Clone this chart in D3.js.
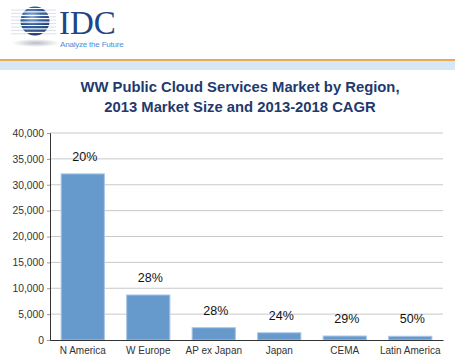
<!DOCTYPE html>
<html>
<head>
<meta charset="utf-8">
<script src="https://cdn.jsdelivr.net/npm/d3@7"></script>
<style>
  body { margin: 0; background: #fff; }
  text { font-family: "Liberation Sans", Arial, sans-serif; }
</style>
</head>
<body>
<div id="chart"></div>
<script>
// Market size 2013 (US$M) and CAGR 2013-2018 by region
const regions = ["N America", "W Europe", "AP ex Japan", "Japan", "CEMA", "Latin America"];
const marketSize = [32100, 8700, 2380, 1400, 770, 720];
const cagrLabels = ["20%", "28%", "28%", "24%", "29%", "50%"];
const yTicks = [0, 5000, 10000, 15000, 20000, 25000, 30000, 35000, 40000];

const width = 455, height = 363;
const margin = { top: 133, right: 12, bottom: 23, left: 50 };

const svg = d3.select("#chart")
    .append("svg")
    .attr("width", width)
    .attr("height", height);

// Header: IDC logo, orange rule and pale blue band
const defs = svg.append("defs");
const globeGrad = defs.append("radialGradient")
    .attr("id", "globe").attr("cx", "40%").attr("cy", "35%").attr("r", "70%");
globeGrad.append("stop").attr("offset", "0%").attr("stop-color", "#8fb3dc");
globeGrad.append("stop").attr("offset", "45%").attr("stop-color", "#2c5a9a");
globeGrad.append("stop").attr("offset", "100%").attr("stop-color", "#13306a");
const shadowGrad = defs.append("radialGradient").attr("id", "shadow");
shadowGrad.append("stop").attr("offset", "0%").attr("stop-color", "#b8bcc4");
shadowGrad.append("stop").attr("offset", "100%").attr("stop-color", "#ffffff");

const logo = svg.append("g");
logo.append("ellipse")
    .attr("cx", 36).attr("cy", 43).attr("rx", 24).attr("ry", 4)
    .attr("fill", "url(#shadow)");
logo.append("circle")
    .attr("cx", 35).attr("cy", 21).attr("r", 14.5)
    .attr("fill", "url(#globe)");
d3.range(8).forEach(i => {
    logo.append("line")
        .attr("x1", 11).attr("x2", 56)
        .attr("y1", 8.5 + i * 3.4).attr("y2", 8.5 + i * 3.4)
        .attr("stroke", "#ffffff").attr("stroke-width", 1.2);
    logo.append("line")
        .attr("x1", 11).attr("x2", 56)
        .attr("y1", 10 + i * 3.4).attr("y2", 10 + i * 3.4)
        .attr("stroke", "#7a90b8").attr("stroke-opacity", 0.35).attr("stroke-width", 0.8);
});
logo.append("text")
    .attr("x", 59).attr("y", 34)
    .style("font-family", "'Liberation Serif', 'DejaVu Serif', serif")
    .style("font-size", "33px")
    .attr("fill", "#1d4587")
    .text("IDC");
logo.append("text")
    .attr("x", 60).attr("y", 47)
    .style("font-size", "8px")
    .style("letter-spacing", "-0.2px")
    .attr("fill", "#4a8fd6")
    .text("Analyze the Future");

svg.append("rect")
    .attr("x", 0).attr("y", 61).attr("width", width).attr("height", 9)
    .attr("fill", "#d8e7f5");
svg.append("rect")
    .attr("x", 0).attr("y", 59).attr("width", width).attr("height", 2)
    .attr("fill", "#e9a955");

// Title
const title = svg.append("text")
    .attr("text-anchor", "middle")
    .style("font-size", "14.8px")
    .style("font-weight", "bold")
    .attr("fill", "#1f3a6e");
title.append("tspan").attr("x", 240).attr("y", 92)
    .text("WW Public Cloud Services Market by Region,");
title.append("tspan").attr("x", 240).attr("y", 112)
    .text("2013 Market Size and 2013-2018 CAGR");

// Scales
const x = d3.scaleBand()
    .domain(regions)
    .range([margin.left, width - margin.right])
    .paddingInner(0.34)
    .paddingOuter(0.17);

const y = d3.scaleLinear()
    .domain([0, 40000])
    .range([height - margin.bottom, margin.top]);

// Gridlines
svg.append("g")
    .selectAll("line")
    .data(yTicks.filter(d => d > 0))
    .join("line")
    .attr("x1", margin.left).attr("x2", width - margin.right)
    .attr("y1", d => y(d)).attr("y2", d => y(d))
    .attr("stroke", "#c9c9c9").attr("stroke-width", 1);

// Y axis
const yAxis = svg.append("g")
    .attr("transform", "translate(" + margin.left + ",0)")
    .call(d3.axisLeft(y).tickValues(yTicks).tickFormat(d3.format(",")).tickSize(3).tickPadding(3));
yAxis.select(".domain").attr("stroke", "#333");
yAxis.selectAll(".tick line").attr("stroke", "#999");
yAxis.selectAll("text")
    .style("font-family", "'Liberation Sans', Arial, sans-serif")
    .style("font-size", "10.3px")
    .attr("fill", "#333");

// Bars
svg.append("g")
    .selectAll("rect")
    .data(regions)
    .join("rect")
    .attr("x", d => x(d))
    .attr("y", (d, i) => y(marketSize[i]))
    .attr("width", x.bandwidth())
    .attr("height", (d, i) => y(0) - y(marketSize[i]))
    .attr("fill", "#6699cc")
    .attr("stroke", "#a9c6e6")
    .attr("stroke-width", 1);

// CAGR labels
svg.append("g")
    .selectAll("text")
    .data(regions)
    .join("text")
    .attr("x", d => x(d) + x.bandwidth() / 2 + 2)
    .attr("y", (d, i) => y(marketSize[i]) - 13)
    .attr("text-anchor", "middle")
    .style("font-size", "12.5px")
    .attr("fill", "#111")
    .text((d, i) => cagrLabels[i]);

// X axis
const xAxis = svg.append("g")
    .attr("transform", "translate(0," + y(0) + ")")
    .call(d3.axisBottom(x).tickSize(0).tickPadding(7));
xAxis.select(".domain").attr("stroke", "#333").attr("stroke-width", 1.2);
xAxis.selectAll("text")
    .style("font-family", "'Liberation Sans', Arial, sans-serif")
    .style("font-size", "10px")
    .attr("fill", "#333");
</script>
</body>
</html>
